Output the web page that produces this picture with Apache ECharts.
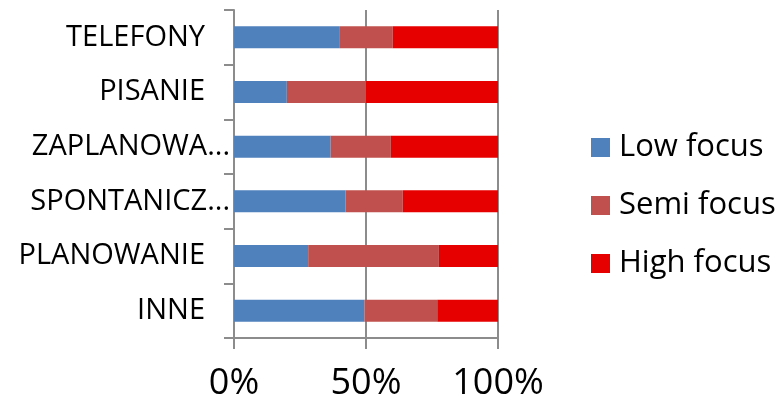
<!DOCTYPE html>
<html>
<head>
<meta charset="utf-8">
<script src="https://cdn.jsdelivr.net/npm/echarts@6/dist/echarts.min.js"></script>
<style>
html,body{margin:0;padding:0;background:#fff;}
#chart{width:782px;height:402px;}
</style>
</head>
<body>
<div id="chart"></div>
<script>
var categories = ['TELEFONY', 'PISANIE', 'ZAPLANOWA...', 'SPONTANICZ...', 'PLANOWANIE', 'INNE'];
var lowFocus  = [40.1, 20.0, 36.6, 42.2, 28.1, 49.4];
var semiFocus = [20.0, 30.0, 22.8, 21.7, 49.5, 27.6];
var highFocus = [39.9, 50.0, 40.6, 36.1, 22.4, 23.0];
var xTicks = [0, 50, 100];
var seriesNames = ['Low focus', 'Semi focus', 'High focus'];

var FONT = 'Open Sans';
var chart = echarts.init(document.getElementById('chart'), null, {renderer: 'canvas'});
function mk(name, data, color) {
  return {
    name: name, type: 'bar', stack: 'total', data: data, barWidth: 22,
    itemStyle: {color: color}, emphasis: {disabled: true}
  };
}
chart.setOption({
  animation: false,
  backgroundColor: '#fff',
  grid: {left: 234, right: 284, top: 10, bottom: 63.5, containLabel: false},
  legend: {
    orient: 'vertical', left: 591, top: 132, padding: 0,
    itemWidth: 19, itemHeight: 19, itemGap: 27,
    icon: 'rect',
    textStyle: {fontFamily: FONT, fontSize: 31, lineHeight: 29, color: '#000', padding: [0, 0, 0, 4]},
    data: seriesNames
  },
  xAxis: {
    type: 'value', min: xTicks[0], max: xTicks[xTicks.length - 1], interval: 50,
    axisLine: {show: true, lineStyle: {color: '#8c8c8c', width: 2}},
    axisTick: {show: true, length: 11, lineStyle: {color: '#8c8c8c', width: 2}},
    splitLine: {show: true, lineStyle: {color: '#8c8c8c', width: 2}},
    axisLabel: {formatter: '{value}%', fontFamily: FONT, fontSize: 36, color: '#000', margin: 28}
  },
  yAxis: {
    type: 'category', inverse: true, data: categories,
    axisLine: {show: true, lineStyle: {color: '#8c8c8c', width: 2}},
    axisTick: {show: true, length: 10, lineStyle: {color: '#8c8c8c', width: 2}},
    axisLabel: {
      margin: 4, interval: 0,
      formatter: function (v) {
        return v.indexOf('...') >= 0 ? '{t|' + v + '}' : '{n|' + v + '}';
      },
      rich: {
        n: {fontFamily: FONT, fontSize: 29, color: '#000', padding: [0, 25, 0, 0]},
        t: {fontFamily: FONT, fontSize: 29, color: '#000'}
      }
    }
  },
  series: [
    mk(seriesNames[0], lowFocus, '#4F81BD'),
    mk(seriesNames[1], semiFocus, '#C0504D'),
    mk(seriesNames[2], highFocus, '#E60000')
  ]
});
</script>
</body>
</html>
